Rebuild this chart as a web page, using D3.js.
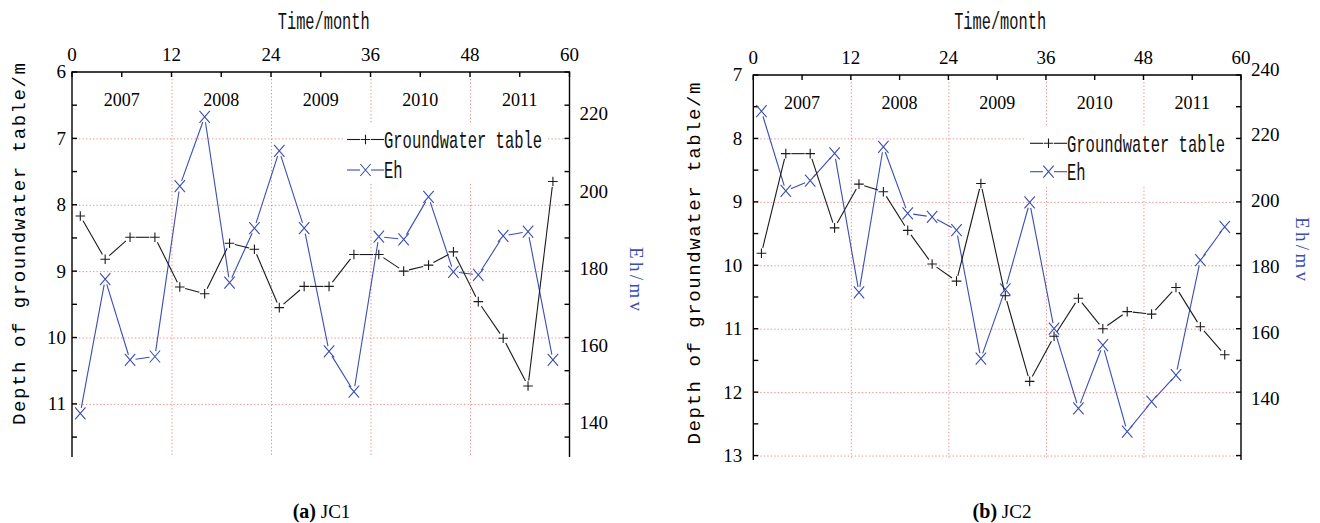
<!DOCTYPE html>
<html>
<head>
<meta charset="utf-8">
<script src="https://cdn.jsdelivr.net/npm/d3@7/dist/d3.min.js"></script>
<style>
  html, body { margin: 0; padding: 0; background: #fff; }
  svg { display: block; }
</style>
</head>
<body>
<svg id="chart" width="1320" height="523"></svg>
<script>
// Sampling months (every third month, 2007-2011)
const months = [1, 4, 7, 10, 13, 16, 19, 22, 25, 28, 31, 34, 37, 40, 43, 46, 49, 52, 55, 58];

// JC1 well
const jc1Depth = [8.17, 8.82, 8.49, 8.49, 9.24, 9.34, 8.58, 8.67, 9.55, 9.23, 9.23, 8.75, 8.75, 9.00, 8.91, 8.71, 9.46, 10.01, 10.73, 7.65];
const jc1Eh = [142.5, 177.2, 156.3, 157.2, 201.3, 219.2, 176.3, 190.4, 210.4, 190.4, 158.5, 148.1, 188.2, 187.5, 198.5, 179.1, 178.3, 188.4, 189.5, 156.3];

// JC2 well
const jc2Depth = [9.81, 8.24, 8.24, 9.41, 8.72, 8.84, 9.45, 9.98, 10.25, 8.71, 10.48, 11.83, 11.12, 10.52, 11.00, 10.73, 10.77, 10.35, 10.97, 11.41];
const jc2Eh = [227.2, 203.0, 206.1, 214.4, 172.2, 216.4, 196.2, 195.1, 191.1, 152.1, 173.1, 199.5, 161.2, 137.0, 156.2, 129.9, 139.0, 147.1, 182.0, 192.1];

// Axis tick values and labels
const monthTicks = [0, 12, 24, 36, 48, 60];
const monthMinorTicks = [6, 18, 30, 42, 54];
const yearLabels = ["2007", "2008", "2009", "2010", "2011"];
const yearCenters = [6, 18, 30, 42, 54];
const jc1DepthTicks = [6, 7, 8, 9, 10, 11];
const jc2DepthTicks = [7, 8, 9, 10, 11, 12, 13];
const jc1EhTicks = [140, 160, 180, 200, 220];
const jc2EhTicks = [140, 160, 180, 200, 220, 240];

const seriesNames = ["Groundwater table", "Eh"];
const captions = [["(a)", "JC1"], ["(b)", "JC2"]];

const BLUE = "#3a4db3";
const BLACK = "#1a1a1a";
const GRID = "#ef8a8a";
const SERIF = "'Liberation Serif', 'Times New Roman', serif";
const MONO = "'Liberation Mono', 'DejaVu Sans Mono', monospace";

const panels = [
  {
    depth: jc1Depth, eh: jc1Eh, depthTicks: jc1DepthTicks, ehTicks: jc1EhTicks,
    x0: 72, x1: 569.5, y0: 72, y1: 457,
    depthDomain: [6, 11.8], ehDomain: [131.2, 230.8],
    leftLabelGap: 6, gridDepth: [7, 8, 9, 10, 11],
    legend: { x: 347, y: 139.5, dy: 30.5, box: [345, 123, 203, 60] },
    depthTitle: { x: 25, y: 244 }, ehTitle: { x: 630, y: 279 },
    caption: { x: 321.5 }
  },
  {
    depth: jc2Depth, eh: jc2Eh, depthTicks: jc2DepthTicks, ehTicks: jc2EhTicks,
    x0: 753.3, x1: 1241, y0: 75, y1: 460,
    depthDomain: [7, 13.07], ehDomain: [121.3, 238.2],
    leftLabelGap: 11, gridDepth: [8, 9, 10, 11, 12, 13],
    legend: { x: 1030, y: 143.3, dy: 28.4, box: [1026, 125, 213, 61] },
    depthTitle: { x: 699.5, y: 263.5 }, ehTitle: { x: 1296, y: 249 },
    caption: { x: 1002 }
  }
];

const svg = d3.select("#chart");

// Line between two marker centres, trimmed so it stops short of the symbols
function trimmedSegments(pts, gap) {
  const segs = [];
  for (let i = 0; i < pts.length - 1; i++) {
    const [ax, ay] = pts[i], [bx, by] = pts[i + 1];
    const L = Math.hypot(bx - ax, by - ay);
    if (L <= 2 * gap) continue;
    const ux = (bx - ax) / L, uy = (by - ay) / L;
    segs.push([[ax + ux * gap, ay + uy * gap], [bx - ux * gap, by - uy * gap]]);
  }
  return segs;
}

function plusPath(x, y, r) {
  return `M${x - r},${y}H${x + r}M${x},${y - r}V${y + r}`;
}
function crossPath(x, y, w, h) {
  return `M${x - w},${y - h}L${x + w},${y + h}M${x + w},${y - h}L${x - w},${y + h}`;
}

// Narrow monospace text: drawn at full height, then squeezed horizontally to a target width
function condensedText(parent, str, x, y, size, width, anchor) {
  const grp = parent.append("g");
  const t = grp.append("text").attr("font-family", MONO).attr("font-size", size)
    .attr("dy", "0.36em").text(str);
  const natural = t.node().getComputedTextLength();
  const sx = width / natural;
  const left = anchor === "middle" ? x - width / 2 : x;
  grp.attr("transform", `translate(${left},${y}) scale(${sx},1)`);
  return grp;
}

panels.forEach((p, pi) => {
  const g = svg.append("g");
  const x = d3.scaleLinear().domain([0, 60]).range([p.x0, p.x1]);
  const yD = d3.scaleLinear().domain(p.depthDomain).range([p.y0, p.y1]);
  const yE = d3.scaleLinear().domain(p.ehDomain).range([p.y1, p.y0]);

  // dotted grid
  const grid = g.append("g").attr("stroke", GRID).attr("stroke-width", 1)
    .attr("stroke-dasharray", "1.3,2.2").attr("fill", "none");
  grid.selectAll("line.h").data(p.gridDepth).join("line")
    .attr("x1", p.x0).attr("x2", p.x1)
    .attr("y1", d => yD(d) + 0.5).attr("y2", d => yD(d) + 0.5);
  grid.selectAll("line.v").data(monthTicks.slice(1, -1)).join("line")
    .attr("x1", d => x(d) + 0.5).attr("x2", d => x(d) + 0.5)
    .attr("y1", p.y0).attr("y2", p.y1);

  // legend background hides grid behind it
  g.append("rect").attr("x", p.legend.box[0]).attr("y", p.legend.box[1])
    .attr("width", p.legend.box[2]).attr("height", p.legend.box[3]).attr("fill", "#fff");

  // axis frame: top, left, right
  const axis = g.append("g").attr("stroke", "#000").attr("stroke-width", 1.4).attr("fill", "none");
  axis.append("path").attr("d", `M${p.x0},${p.y1}V${p.y0}H${p.x1}V${p.y1}`);

  // top axis ticks (inward)
  const tickLen = 5;
  axis.selectAll("line.tt").data(monthTicks.concat(monthMinorTicks)).join("line")
    .attr("x1", d => x(d)).attr("x2", d => x(d))
    .attr("y1", p.y0).attr("y2", p.y0 + tickLen);

  // depth ticks every half metre on both vertical axes (inward)
  const halfTicks = d3.range(p.depthDomain[0], p.depthDomain[1] + 0.001, 0.5);
  axis.selectAll("line.lt").data(halfTicks).join("line")
    .attr("x1", p.x0).attr("x2", p.x0 + tickLen)
    .attr("y1", d => yD(d)).attr("y2", d => yD(d));
  axis.selectAll("line.rt").data(halfTicks).join("line")
    .attr("x1", p.x1).attr("x2", p.x1 - tickLen)
    .attr("y1", d => yD(d)).attr("y2", d => yD(d));

  // top axis labels
  g.selectAll("text.mt").data(monthTicks).join("text")
    .attr("x", d => x(d)).attr("y", p.y0 - 11)
    .attr("text-anchor", "middle")
    .attr("font-family", SERIF).attr("font-size", 19).text(d => d);

  // year labels inside the plot
  g.selectAll("text.yr").data(yearLabels).join("text")
    .attr("x", (d, i) => x(yearCenters[i])).attr("y", p.y0 + 34)
    .attr("text-anchor", "middle")
    .attr("font-family", SERIF).attr("font-size", 18).text(d => d);

  // depth labels
  g.selectAll("text.dl").data(p.depthTicks).join("text")
    .attr("x", p.x0 - p.leftLabelGap).attr("y", d => yD(d))
    .attr("dy", "0.34em").attr("text-anchor", "end")
    .attr("font-family", SERIF).attr("font-size", 19).text(d => d);

  // Eh labels on the right
  g.selectAll("text.el").data(p.ehTicks).join("text")
    .attr("x", p.x1 + 10).attr("y", d => yE(d))
    .attr("dy", "0.34em").attr("text-anchor", "start")
    .attr("font-family", SERIF).attr("font-size", 19).text(d => d);

  // axis titles
  condensedText(g, "Time/month", (p.x0 + p.x1) / 2 + 3, 20, 24, 92, "middle")
    .attr("fill", "#111");

  g.append("text")
    .attr("transform", `translate(${p.depthTitle.x},${p.depthTitle.y}) rotate(-90)`)
    .attr("text-anchor", "middle").attr("font-family", MONO).attr("font-size", 19)
    .attr("textLength", 362).attr("lengthAdjust", "spacing")
    .text("Depth of groundwater table/m");

  g.append("text")
    .attr("transform", `translate(${p.ehTitle.x},${p.ehTitle.y}) rotate(90)`)
    .attr("text-anchor", "middle").attr("font-family", SERIF).attr("font-size", 19)
    .attr("fill", BLUE).attr("textLength", 64).attr("lengthAdjust", "spacing")
    .text("Eh/mv");

  // data series
  const depthPts = months.map((m, i) => [x(m), yD(p.depth[i])]);
  const ehPts = months.map((m, i) => [x(m), yE(p.eh[i])]);

  const drawSeries = (pts, color, marker) => {
    const s = g.append("g").attr("stroke", color).attr("stroke-width", 1.1).attr("fill", "none");
    s.selectAll("line").data(trimmedSegments(pts, 5.5)).join("line")
      .attr("x1", d => d[0][0]).attr("y1", d => d[0][1])
      .attr("x2", d => d[1][0]).attr("y2", d => d[1][1]);
    s.selectAll("path").data(pts).join("path")
      .attr("d", d => marker === "plus" ? plusPath(d[0], d[1], 4.8) : crossPath(d[0], d[1], 5.2, 6));
  };
  drawSeries(ehPts, BLUE, "cross");
  drawSeries(depthPts, BLACK, "plus");

  // legend
  const lg = g.append("g");
  [[BLACK, "plus"], [BLUE, "cross"]].forEach(([color, marker], i) => {
    const ly = p.legend.y + i * p.legend.dy;
    const lx = p.legend.x;
    const row = lg.append("g").attr("stroke", color).attr("stroke-width", 1.1).attr("fill", "none");
    row.append("line").attr("x1", lx).attr("x2", lx + 13).attr("y1", ly).attr("y2", ly);
    row.append("line").attr("x1", lx + 24).attr("x2", lx + 37).attr("y1", ly).attr("y2", ly);
    row.append("path").attr("d", marker === "plus" ? plusPath(lx + 18.5, ly, 4.8) : crossPath(lx + 18.5, ly, 5.2, 6));
    const name = seriesNames[i];
    condensedText(lg, name, lx + 37, ly, 23, name.length * 9.3, "start").attr("fill", "#111");
  });

  // caption
  const cap = g.append("text").attr("x", p.caption.x).attr("y", 518)
    .attr("text-anchor", "middle").attr("font-family", SERIF).attr("font-size", 20);
  cap.append("tspan").attr("font-weight", "bold").text(captions[pi][0]);
  cap.append("tspan").attr("font-size", 19).text(" " + captions[pi][1]);
});
</script>
</body>
</html>
